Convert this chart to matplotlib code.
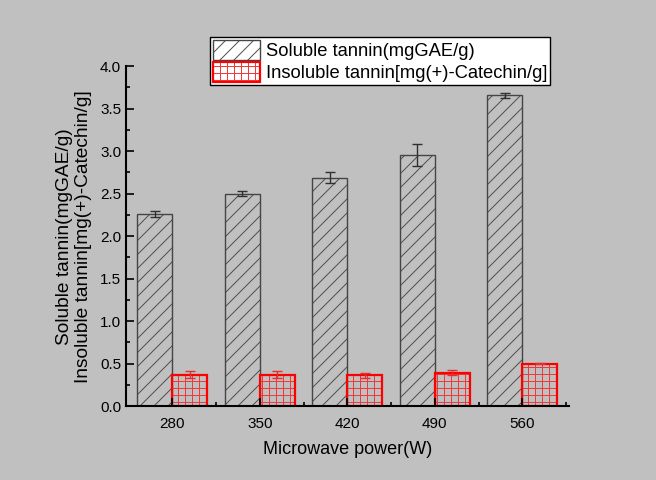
import matplotlib
matplotlib.use("Agg")
import matplotlib.pyplot as plt
import numpy as np
from matplotlib.ticker import MultipleLocator, FixedLocator, FormatStrFormatter

# Render at 84 dpi so that the grid hatch lines fall on whole pixels (7 px cells);
# all point sizes are scaled by K to keep their pixel size as at 100 dpi.
DPI = 84
K = 100 / DPI

plt.rcParams['font.family'] = ['Liberation Sans', 'DejaVu Sans']
plt.rcParams['hatch.linewidth'] = 72 / DPI

categories = ['280', '350', '420', '490', '560']
soluble = [2.26, 2.50, 2.69, 2.95, 3.66]
soluble_err = [0.04, 0.03, 0.07, 0.13, 0.03]
insoluble = [0.37, 0.37, 0.36, 0.39, 0.50]
insoluble_err = [0.04, 0.04, 0.03, 0.03, 0.01]

bg = '#c0c0c0'
fig = plt.figure(figsize=(656 / DPI, 480 / DPI), dpi=DPI, facecolor=bg)
ax = fig.add_axes([0.192, 0.154, 0.675, 0.708], facecolor=bg)

x = np.arange(len(categories))
w = 0.4
# soluble: hatch layer + edge layer
s_h = ax.bar(x - w/2, soluble, w, facecolor='none', edgecolor='#505050', hatch='//',
             linewidth=0)
s_e = ax.bar(x - w/2, soluble, w, facecolor='none', edgecolor='#454545', linewidth=1.0 * K)
ax.errorbar(x - w/2, soluble, yerr=soluble_err, fmt='none', ecolor='#303030',
            elinewidth=1.0 * K, capsize=3.5 * K, capthick=1.0 * K)
# insoluble
i_h = ax.bar(x + w/2, insoluble, w, facecolor='none', edgecolor='#ee3a3a', hatch='++',
             linewidth=0)
i_e = ax.bar(x + w/2, insoluble, w, facecolor='none', edgecolor='#ff0000', linewidth=1.6 * K)
ax.errorbar(x + w/2, insoluble, yerr=insoluble_err, fmt='none', ecolor='#e03030',
            elinewidth=1.0 * K, capsize=3.5 * K, capthick=1.0 * K)

ax.set_xlim(-0.53, 4.53)
ax.set_ylim(0, 4.0)
ax.set_xticks(x)
ax.set_xticklabels(categories)
ax.xaxis.set_minor_locator(FixedLocator(x + 0.5))
ax.yaxis.set_major_locator(MultipleLocator(0.5))
ax.yaxis.set_minor_locator(MultipleLocator(0.25))
ax.yaxis.set_major_formatter(FormatStrFormatter('%.1f'))
ax.tick_params(which='both', direction='in', labelsize=11 * K, width=1.2 * K, pad=3.5 * K)
ax.tick_params(which='major', length=6 * K)
ax.tick_params(which='minor', length=3 * K)
ax.tick_params(axis='x', which='both', pad=8 * K)
for s in ['top', 'right']:
    ax.spines[s].set_visible(False)
for s in ['left', 'bottom']:
    ax.spines[s].set_linewidth(1.5 * K)

ax.set_xlabel('Microwave power(W)', fontsize=13 * K, labelpad=7 * K)
ax.set_ylabel('Soluble tannin(mgGAE/g)\nInsoluble tannin[mg(+)-Catechin/g]', fontsize=13.8 * K,
              labelpad=6 * K, linespacing=1.1)

leg = fig.legend(handles=[(s_h[0], s_e[0]), (i_h[0], i_e[0])],
                 labels=['Soluble tannin(mgGAE/g)', 'Insoluble tannin[mg(+)-Catechin/g]'],
                 loc='upper left', bbox_to_anchor=(0.32, 0.923),
                 fontsize=13.2 * K, frameon=True, fancybox=False, edgecolor='black',
                 facecolor='white', framealpha=1, borderpad=0.15, labelspacing=0.1,
                 handlelength=2.6, handleheight=1.3, handletextpad=0.3, borderaxespad=0)
leg.get_frame().set_linewidth(1.0 * K)

fig.savefig('out.png', dpi=DPI, facecolor=bg)
